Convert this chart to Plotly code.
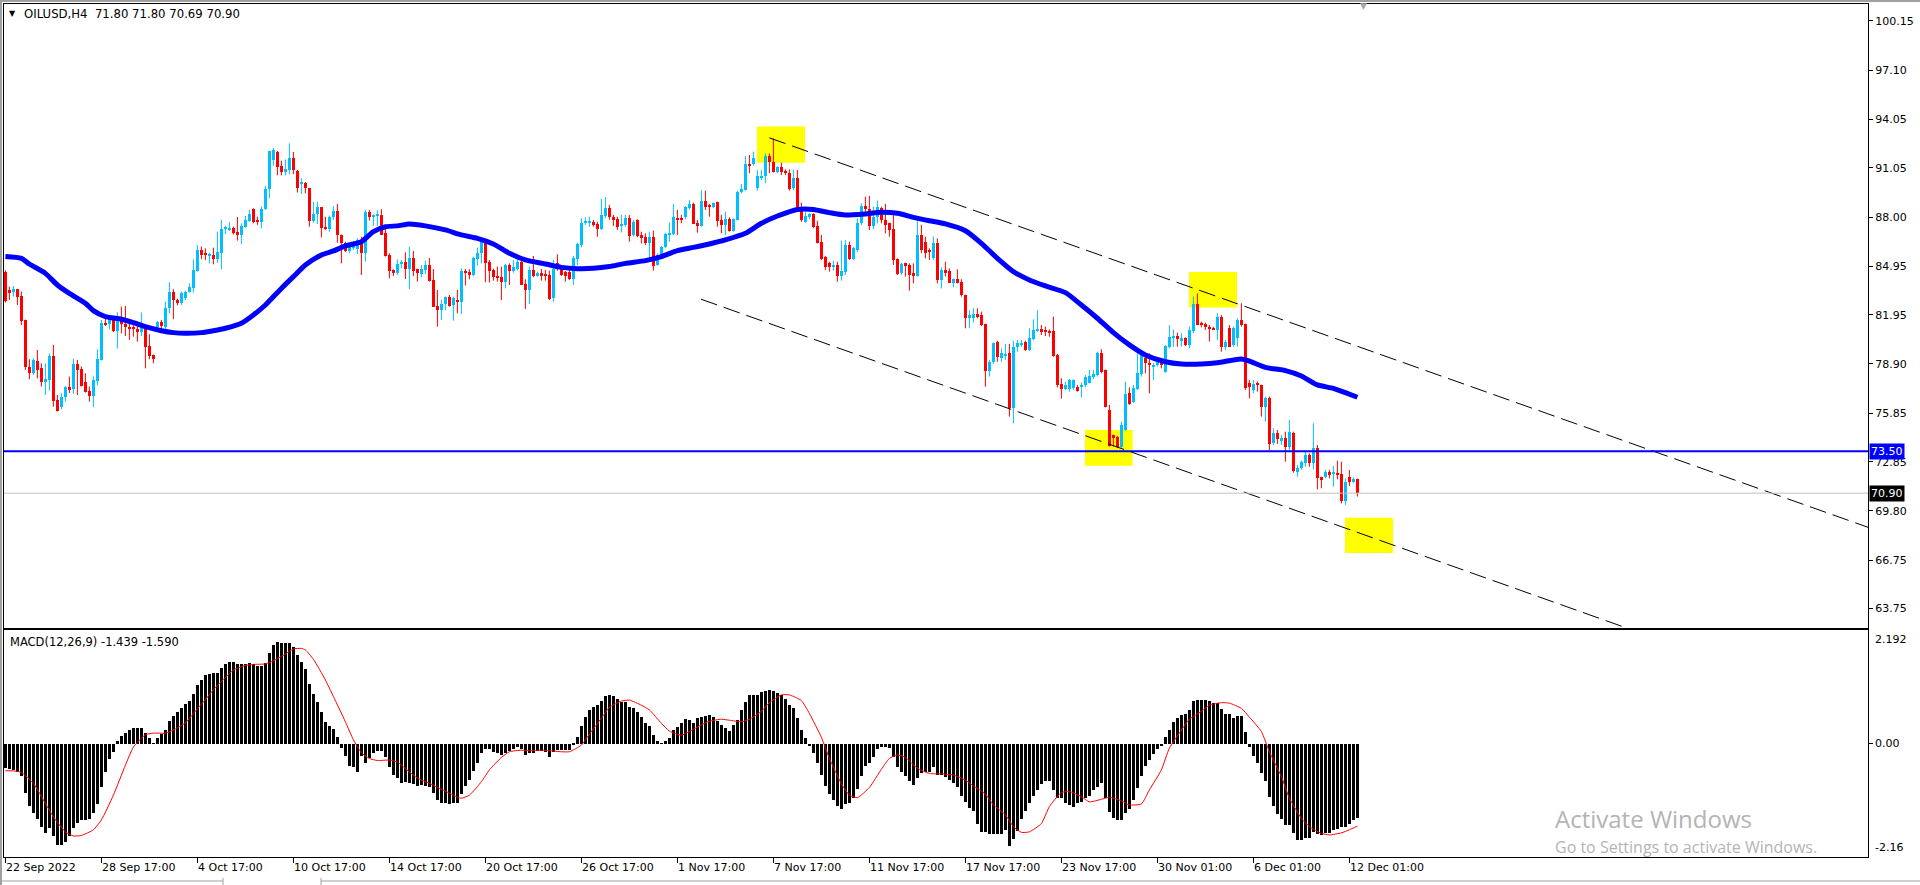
import plotly.graph_objects as go

# ---------------- data ----------------
OPEN = [84.60, 83.48, 83.38, 83.53, 83.11, 81.63, 78.74, 78.32, 79.11, 78.63,
        77.81, 77.91, 79.40, 76.67, 76.22, 76.84, 77.50, 77.33, 78.90, 78.57,
        77.79, 77.23, 76.92, 77.87, 79.15, 81.46, 81.38, 81.67, 80.96, 81.83,
        81.38, 81.21, 81.21, 81.05, 80.88, 81.05, 80.01, 79.46, 81.17, 81.52,
        81.17, 82.35, 83.38, 82.86, 82.70, 82.97, 83.38, 83.58, 84.68, 85.96,
        85.79, 85.63, 85.65, 85.38, 85.79, 87.24, 87.24, 87.30, 87.09, 86.89,
        87.36, 87.78, 88.48, 87.82, 87.67, 88.48, 89.72, 91.53, 92.03, 91.16,
        90.79, 90.91, 91.63, 90.85, 90.05, 90.13, 89.78, 87.78, 88.19, 88.60,
        87.40, 87.24, 87.98, 88.40, 86.89, 86.41, 85.92, 86.08, 86.00, 86.58,
        85.75, 88.29, 88.02, 88.07, 88.13, 87.00, 85.65, 84.72, 84.51, 85.09,
        85.19, 84.78, 85.44, 84.78, 84.47, 84.72, 85.01, 84.10, 82.49, 82.24,
        82.59, 83.03, 82.53, 82.86, 82.76, 84.66, 84.62, 84.41, 85.42, 85.75,
        86.54, 85.24, 84.72, 84.37, 84.31, 84.00, 85.03, 84.68, 84.78, 85.21,
        83.85, 83.48, 84.72, 84.35, 84.55, 84.45, 84.41, 82.97, 85.17, 84.93,
        84.62, 84.62, 84.18, 85.42, 86.29, 87.61, 87.69, 87.71, 87.57, 87.26,
        88.07, 88.54, 88.02, 87.88, 87.45, 87.51, 87.92, 86.89, 87.82, 86.89,
        86.74, 86.37, 86.78, 85.03, 85.59, 86.12, 86.89, 86.95, 87.92, 87.92,
        87.98, 88.54, 88.81, 87.65, 87.45, 88.99, 88.68, 88.60, 88.93, 87.82,
        87.51, 87.86, 87.16, 87.82, 89.55, 89.67, 91.28, 91.28, 89.78, 90.40,
        90.54, 91.78, 91.43, 90.81, 91.12, 90.87, 90.75, 89.78, 90.40, 88.64,
        87.71, 88.02, 88.17, 87.44, 86.47, 85.54, 85.17, 84.93, 85.03, 84.35,
        84.62, 86.27, 85.40, 85.96, 87.61, 88.68, 88.48, 87.44, 88.02, 88.54,
        87.82, 87.61, 87.24, 85.38, 84.51, 85.13, 85.03, 84.51, 84.35, 86.89,
        86.47, 85.96, 85.48, 86.41, 84.10, 84.72, 84.68, 83.89, 84.16, 83.99,
        83.17, 81.73, 81.73, 81.97, 81.93, 81.38, 78.49, 79.04, 80.28, 79.25,
        79.42, 79.56, 76.15, 79.93, 80.08, 80.28, 79.77, 80.43, 80.96, 81.04,
        81.00, 80.96, 80.94, 79.46, 77.66, 77.35, 77.35, 77.39, 77.45, 77.45,
        77.60, 77.74, 78.12, 78.22, 79.60, 78.53, 76.05, 74.50, 74.40, 73.74,
        74.81, 77.08, 76.57, 77.33, 78.28, 79.25, 78.94, 78.74, 78.82, 79.15,
        78.43, 79.97, 80.49, 80.63, 80.38, 80.49, 80.07, 80.96, 82.61, 81.46,
        81.38, 81.21, 81.15, 81.01, 81.83, 79.97, 81.11, 80.07, 80.49, 81.62,
        81.38, 77.70, 77.29, 77.70, 77.60, 76.26, 76.77, 73.99, 74.65, 74.19,
        74.30, 73.74, 74.65, 72.23, 72.44, 72.75, 73.26, 72.75, 73.68, 71.88,
        71.92, 72.23, 72.09, 72.09, 72.09, 70.44, 71.88, 71.61, 71.80]

HIGH = [84.70, 83.69, 83.73, 83.55, 83.38, 81.65, 79.19, 79.25, 79.77, 78.94,
        78.94, 79.56, 80.08, 76.98, 77.09, 77.52, 78.12, 79.21, 79.15, 78.74,
        78.32, 77.50, 78.12, 79.81, 81.63, 81.73, 81.83, 81.83, 82.10, 82.45,
        82.49, 81.56, 81.38, 81.38, 82.08, 81.32, 80.74, 79.48, 81.56, 81.63,
        82.76, 83.96, 83.53, 82.95, 83.38, 83.44, 83.90, 85.38, 86.27, 86.17,
        86.06, 85.79, 86.10, 87.09, 87.82, 87.45, 87.69, 87.40, 88.00, 87.61,
        88.06, 88.44, 88.54, 88.02, 88.64, 89.92, 92.11, 92.27, 92.09, 91.49,
        91.57, 92.56, 92.03, 90.91, 90.40, 90.17, 89.80, 88.95, 88.95, 88.62,
        88.02, 88.09, 88.68, 88.81, 86.91, 86.47, 86.33, 86.52, 86.68, 86.78,
        88.44, 88.44, 88.15, 88.40, 88.48, 87.45, 85.75, 84.76, 85.38, 85.34,
        85.81, 86.14, 85.90, 84.80, 85.03, 85.30, 85.46, 84.78, 83.48, 82.86,
        83.07, 83.17, 83.07, 83.48, 84.82, 84.78, 84.76, 85.55, 86.10, 86.68,
        86.56, 85.34, 84.80, 84.93, 84.93, 85.09, 85.13, 85.34, 85.65, 85.34,
        84.14, 84.93, 85.59, 84.62, 84.78, 84.72, 84.68, 85.34, 85.69, 85.03,
        84.66, 84.93, 85.59, 86.41, 87.92, 87.98, 88.02, 87.82, 87.71, 89.12,
        89.22, 88.75, 88.13, 88.02, 88.13, 88.13, 88.13, 87.82, 87.86, 87.09,
        86.99, 87.09, 87.16, 85.75, 86.21, 87.03, 87.65, 88.81, 88.44, 88.13,
        88.68, 89.05, 88.89, 87.82, 89.67, 89.63, 88.81, 88.89, 88.95, 88.13,
        88.33, 87.98, 87.92, 89.63, 90.05, 91.78, 91.84, 92.05, 90.91, 90.91,
        91.94, 91.94, 92.87, 91.16, 91.37, 90.95, 90.95, 90.91, 90.91, 88.89,
        88.33, 88.23, 88.23, 87.77, 86.89, 85.58, 85.23, 85.28, 85.23, 86.54,
        86.58, 86.47, 86.16, 87.92, 88.85, 89.26, 89.30, 88.64, 89.01, 88.64,
        88.81, 87.65, 88.12, 85.44, 85.17, 85.17, 85.13, 85.13, 87.81, 87.51,
        86.78, 86.06, 86.78, 86.68, 84.88, 85.23, 84.82, 84.20, 84.76, 84.14,
        83.19, 82.24, 82.35, 82.35, 82.14, 81.40, 79.15, 80.22, 80.34, 79.87,
        80.14, 80.14, 80.34, 80.38, 80.38, 80.34, 81.11, 81.66, 82.24, 81.31,
        81.21, 81.04, 81.83, 79.52, 78.01, 77.80, 77.97, 77.95, 77.60, 77.74,
        78.22, 78.53, 78.53, 79.66, 79.81, 78.55, 76.36, 74.52, 74.44, 75.33,
        77.80, 77.45, 77.60, 79.56, 79.60, 79.52, 79.56, 78.94, 79.15, 79.25,
        80.07, 81.31, 81.04, 80.84, 80.80, 80.55, 81.21, 83.07, 83.27, 81.52,
        81.46, 81.31, 81.21, 82.04, 81.93, 80.39, 81.31, 81.21, 81.73, 82.66,
        81.40, 77.91, 77.91, 77.81, 77.62, 76.88, 76.88, 74.92, 74.81, 74.50,
        74.71, 75.43, 74.71, 72.65, 72.91, 73.47, 73.37, 75.23, 73.88, 71.92,
        72.34, 72.34, 72.58, 72.91, 72.85, 71.82, 72.34, 71.88, 71.80]

LOW = [82.70, 82.86, 83.07, 82.55, 81.32, 78.53, 77.95, 78.22, 78.01, 77.50,
       76.98, 77.25, 76.26, 75.95, 76.09, 76.57, 77.09, 77.04, 76.98, 77.50,
       77.13, 76.57, 76.22, 77.60, 79.11, 81.25, 81.05, 80.88, 79.85, 80.80,
       80.63, 80.39, 80.59, 80.28, 80.63, 78.63, 79.19, 78.94, 81.11, 81.05,
       81.05, 82.04, 81.67, 82.53, 82.55, 82.86, 83.32, 83.32, 84.62, 85.38,
       85.34, 85.13, 85.07, 85.17, 84.76, 86.95, 87.14, 86.91, 86.54, 86.33,
       87.34, 87.71, 87.61, 87.51, 87.30, 88.44, 89.16, 91.18, 90.58, 90.58,
       90.58, 90.65, 90.65, 89.51, 89.43, 89.47, 87.40, 87.65, 87.57, 86.74,
       87.20, 87.09, 87.82, 86.41, 85.13, 85.84, 85.75, 85.96, 85.71, 84.41,
       85.24, 87.78, 87.45, 87.45, 86.89, 85.55, 84.20, 84.35, 84.41, 84.82,
       84.16, 83.54, 84.35, 84.00, 84.27, 84.47, 84.00, 82.45, 81.21, 81.63,
       82.24, 82.45, 81.58, 82.04, 82.00, 83.75, 84.14, 84.35, 85.01, 85.13,
       83.96, 83.94, 84.06, 84.00, 82.86, 83.58, 83.79, 84.55, 84.68, 83.79,
       82.31, 82.61, 84.27, 84.31, 84.06, 84.06, 82.86, 82.76, 84.68, 84.35,
       84.00, 84.10, 83.79, 85.03, 86.12, 87.51, 87.40, 87.40, 86.78, 87.20,
       87.92, 87.82, 87.45, 87.20, 87.05, 87.40, 86.47, 86.78, 86.74, 86.37,
       86.27, 85.50, 84.68, 84.99, 85.50, 86.06, 86.47, 86.87, 86.89, 87.61,
       87.86, 88.48, 87.57, 87.03, 87.40, 88.44, 88.02, 88.54, 87.40, 87.00,
       86.89, 87.09, 87.09, 87.78, 89.47, 89.63, 90.71, 91.18, 89.63, 90.29,
       90.09, 90.71, 90.75, 90.71, 90.60, 90.60, 89.63, 89.67, 88.54, 87.71,
       87.65, 87.86, 87.30, 86.37, 85.34, 84.72, 84.62, 84.68, 83.99, 84.06,
       84.41, 85.34, 85.34, 85.85, 87.51, 88.23, 87.20, 87.24, 87.61, 87.61,
       86.99, 86.78, 85.03, 84.41, 84.41, 84.31, 83.44, 83.89, 84.31, 85.75,
       85.44, 85.34, 85.34, 83.89, 83.58, 84.31, 83.93, 83.65, 83.89, 83.07,
       81.11, 81.11, 81.46, 81.73, 81.25, 77.50, 78.12, 78.90, 79.04, 79.04,
       79.15, 75.64, 75.22, 79.66, 79.97, 79.71, 79.71, 80.38, 80.90, 80.69,
       80.63, 80.59, 79.35, 77.45, 76.75, 77.29, 77.18, 77.29, 77.18, 76.83,
       77.45, 77.70, 77.95, 78.12, 78.32, 76.21, 73.78, 73.78, 73.68, 73.68,
       74.77, 76.37, 76.50, 77.29, 78.12, 78.32, 77.08, 77.91, 78.74, 78.63,
       78.36, 79.87, 79.97, 79.97, 79.97, 80.01, 79.87, 80.80, 81.31, 81.17,
       81.01, 80.28, 81.01, 80.39, 79.66, 79.77, 79.97, 79.97, 79.97, 81.21,
       77.29, 76.77, 77.08, 77.19, 75.64, 75.33, 73.57, 73.88, 73.95, 73.88,
       72.85, 73.57, 72.17, 71.92, 72.34, 72.54, 72.54, 72.38, 71.14, 71.20,
       71.82, 71.82, 71.30, 71.76, 70.27, 70.17, 71.35, 71.55, 70.69]

CLOSE = [82.80, 83.32, 83.55, 83.07, 81.58, 78.74, 78.32, 79.15, 78.53, 77.81,
         77.95, 79.40, 76.63, 75.97, 76.84, 77.50, 77.29, 78.90, 78.53, 77.54,
         77.19, 76.92, 77.91, 79.21, 81.46, 81.32, 81.67, 80.94, 81.73, 81.38,
         81.17, 81.09, 81.09, 80.88, 81.42, 79.97, 79.40, 79.23, 81.50, 81.25,
         82.35, 83.38, 82.86, 82.70, 83.28, 83.38, 83.69, 84.72, 85.96, 85.65,
         85.65, 85.67, 85.38, 85.86, 87.26, 87.40, 87.30, 87.03, 86.89, 87.45,
         87.82, 88.19, 87.69, 87.69, 88.50, 89.72, 92.11, 92.15, 91.12, 90.79,
         90.95, 91.63, 90.91, 89.78, 90.13, 89.78, 87.78, 88.19, 88.60, 87.34,
         87.28, 88.02, 88.40, 86.89, 86.41, 85.90, 86.17, 86.25, 86.58, 85.75,
         88.29, 88.02, 88.13, 88.13, 86.89, 85.59, 84.68, 84.51, 85.09, 85.20,
         84.78, 85.44, 84.68, 84.51, 84.78, 85.01, 84.04, 82.45, 82.24, 82.61,
         83.03, 82.49, 82.97, 82.76, 84.66, 84.55, 84.41, 85.48, 85.75, 86.54,
         85.17, 84.68, 84.31, 84.20, 84.00, 85.03, 84.68, 84.93, 85.21, 83.79,
         83.48, 84.72, 84.35, 84.55, 84.35, 84.39, 82.90, 84.76, 84.80, 84.41,
         84.35, 84.18, 85.48, 86.33, 87.65, 87.78, 87.71, 87.51, 87.26, 88.13,
         88.54, 88.02, 87.82, 87.40, 87.51, 87.92, 86.82, 87.71, 86.82, 86.68,
         86.37, 86.74, 84.99, 85.65, 86.12, 86.95, 87.03, 87.98, 87.86, 87.82,
         88.60, 88.81, 87.57, 87.45, 88.99, 88.64, 88.64, 88.85, 87.78, 87.51,
         87.86, 87.16, 87.86, 89.57, 89.72, 91.28, 91.22, 91.63, 90.54, 90.54,
         91.78, 91.43, 90.81, 91.08, 90.81, 90.71, 89.71, 90.40, 88.60, 87.82,
         88.06, 88.17, 87.40, 86.41, 85.38, 84.88, 84.93, 85.03, 84.35, 84.68,
         86.27, 85.38, 86.06, 87.65, 88.68, 88.48, 87.44, 88.02, 88.60, 87.82,
         87.51, 87.20, 85.34, 84.47, 85.09, 84.97, 84.41, 84.35, 86.89, 85.96,
         85.79, 85.85, 86.41, 84.10, 84.72, 84.55, 83.93, 84.14, 83.93, 83.17,
         81.73, 81.93, 82.00, 81.83, 81.31, 78.49, 79.04, 80.18, 79.31, 79.56,
         79.52, 76.15, 79.93, 80.18, 80.18, 79.77, 80.49, 81.00, 81.04, 80.90,
         80.90, 80.84, 79.39, 77.60, 77.35, 77.60, 77.91, 77.91, 77.25, 77.60,
         78.12, 78.16, 78.28, 79.60, 78.43, 76.26, 73.82, 74.29, 73.78, 75.12,
         77.04, 76.42, 77.39, 78.36, 79.56, 78.94, 78.84, 78.84, 79.04, 78.82,
         80.01, 80.59, 80.63, 80.43, 80.49, 80.07, 81.00, 82.61, 81.31, 81.31,
         81.17, 81.09, 81.05, 81.83, 79.97, 80.28, 79.97, 81.11, 81.62, 81.31,
         77.39, 77.45, 77.66, 77.60, 76.26, 76.77, 73.95, 74.61, 74.23, 74.30,
         73.74, 74.71, 72.30, 72.44, 72.85, 73.26, 72.75, 73.68, 71.82, 71.76,
         72.23, 72.03, 72.13, 72.03, 70.44, 71.61, 71.61, 71.80, 70.90]

# moving average (thick blue line), read at sample bars
MA_IDX = [0, 4, 6, 10, 13, 16, 20, 22, 25, 29, 32, 35, 39, 42, 45, 49, 52, 55, 59, 62,
          65, 69, 72, 75, 79, 82, 85, 89, 92, 95, 98, 101, 105, 110, 114, 118, 122, 126,
          130, 135, 139, 143, 147, 151, 155, 160, 164, 168, 172, 176, 180, 185, 189, 193,
          198, 202, 206, 210, 215, 219, 223, 227, 231, 235, 240, 244, 248, 252, 256, 260,
          265, 269, 273, 277, 281, 285, 290, 294, 299, 303, 307, 309, 311, 315, 320, 324,
          328, 332, 335, 338]
MA_VAL = [85.55, 85.44, 85.09, 84.51, 83.79, 83.27, 82.66, 82.20, 81.83, 81.67, 81.46,
          81.21, 80.96, 80.84, 80.80, 80.84, 80.96, 81.11, 81.42, 81.93, 82.55, 83.58,
          84.31, 85.03, 85.65, 85.90, 86.21, 86.47, 87.09, 87.40, 87.45, 87.57, 87.45,
          87.20, 86.89, 86.68, 86.33, 85.75, 85.34, 85.09, 84.88, 84.80, 84.82, 84.93,
          85.13, 85.30, 85.55, 85.92, 86.12, 86.33, 86.58, 86.99, 87.61, 88.06, 88.47,
          88.47, 88.27, 88.12, 88.19, 88.29, 88.23, 87.98, 87.77, 87.57, 87.15, 86.37,
          85.44, 84.62, 84.10, 83.73, 83.32, 82.55, 81.73, 80.84, 80.08, 79.46, 79.04,
          78.90, 78.90, 78.98, 79.15, 79.21, 79.08, 78.69, 78.49, 78.16, 77.60, 77.39,
          77.12, 76.84]

# MACD(12,26,9) histogram, one value per bar
MACD_HIST = [-0.47, -0.49, -0.50, -0.54, -0.62, -0.94, -1.20, -1.33, -1.46, -1.61,
             -1.72, -1.63, -1.78, -1.95, -1.95, -1.89, -1.79, -1.63, -1.52, -1.48,
             -1.47, -1.46, -1.34, -1.16, -0.84, -0.54, -0.30, -0.15, 0.06, 0.15,
             0.22, 0.28, 0.30, 0.30, 0.31, 0.22, 0.11, 0.01, 0.11, 0.19,
             0.28, 0.45, 0.55, 0.61, 0.69, 0.77, 0.84, 0.97, 1.14, 1.24,
             1.33, 1.36, 1.37, 1.38, 1.48, 1.54, 1.59, 1.59, 1.55, 1.55,
             1.55, 1.56, 1.54, 1.50, 1.50, 1.56, 1.77, 1.91, 1.97, 1.96,
             1.95, 1.95, 1.87, 1.72, 1.59, 1.45, 1.16, 0.97, 0.82, 0.61,
             0.43, 0.34, 0.29, 0.13, -0.08, -0.23, -0.43, -0.45, -0.54, -0.23,
             -0.37, -0.28, -0.18, -0.13, -0.13, -0.26, -0.44, -0.60, -0.66, -0.75,
             -0.73, -0.76, -0.77, -0.81, -0.79, -0.81, -0.83, -0.95, -1.08, -1.14,
             -1.15, -1.16, -1.15, -1.14, -0.97, -0.81, -0.70, -0.52, -0.36, -0.17,
             -0.10, -0.10, -0.15, -0.17, -0.21, -0.17, -0.13, -0.10, -0.05, -0.10,
             -0.21, -0.17, -0.17, -0.13, -0.13, -0.15, -0.25, -0.15, -0.12, -0.12,
             -0.12, -0.12, -0.02, 0.14, 0.35, 0.53, 0.65, 0.71, 0.75, 0.84,
             0.93, 0.95, 0.93, 0.88, 0.82, 0.82, 0.71, 0.69, 0.61, 0.52,
             0.41, 0.35, 0.17, 0.06, 0.01, 0.06, 0.11, 0.28, 0.32, 0.41,
             0.48, 0.46, 0.41, 0.50, 0.52, 0.54, 0.56, 0.52, 0.45, 0.37,
             0.30, 0.26, 0.37, 0.46, 0.66, 0.82, 0.95, 0.95, 0.95, 1.01,
             1.03, 1.05, 1.03, 0.99, 0.95, 0.88, 0.75, 0.69, 0.50, 0.28,
             0.11, -0.04, -0.17, -0.36, -0.60, -0.81, -0.97, -1.08, -1.20, -1.26,
             -1.16, -1.14, -1.05, -0.88, -0.62, -0.43, -0.36, -0.25, -0.10, -0.06,
             -0.06, -0.08, -0.25, -0.44, -0.54, -0.62, -0.71, -0.79, -0.65, -0.57,
             -0.54, -0.54, -0.45, -0.60, -0.60, -0.63, -0.70, -0.75, -0.84, -1.01,
             -1.12, -1.23, -1.29, -1.54, -1.70, -1.70, -1.74, -1.74, -1.74, -1.74,
             -1.66, -1.97, -1.83, -1.68, -1.46, -1.29, -1.14, -1.01, -0.89, -0.77,
             -0.71, -0.71, -0.89, -1.05, -1.05, -1.15, -1.18, -1.21, -1.15, -1.12,
             -1.05, -1.01, -0.89, -0.84, -0.75, -1.05, -1.31, -1.44, -1.48, -1.48,
             -1.33, -1.25, -1.08, -0.86, -0.62, -0.43, -0.31, -0.19, -0.09, -0.04,
             0.13, 0.28, 0.43, 0.50, 0.56, 0.58, 0.66, 0.84, 0.85, 0.86,
             0.85, 0.84, 0.80, 0.80, 0.67, 0.58, 0.58, 0.50, 0.54, 0.54,
             0.24, -0.05, -0.23, -0.36, -0.57, -0.71, -1.02, -1.20, -1.35, -1.46,
             -1.57, -1.57, -1.72, -1.85, -1.85, -1.81, -1.81, -1.70, -1.74, -1.76,
             -1.72, -1.72, -1.66, -1.65, -1.61, -1.60, -1.55, -1.47, -1.439]

# MACD signal line, read at sample bars
SIG_IDX = [0, 2, 4, 7, 10, 12, 15, 17, 19, 22, 24, 27, 30, 32, 35, 37, 40, 42, 45, 47,
           50, 52, 55, 57, 60, 62, 65, 67, 70, 72, 74, 75, 77, 80, 82, 85, 87, 89, 91, 93,
           96, 98, 101, 103, 106, 108, 111, 113, 114, 116, 119, 121, 124, 126, 129, 131,
           134, 136, 139, 141, 144, 146, 149, 151, 154, 156, 159, 161, 164, 166, 169, 171,
           174, 176, 179, 181, 184, 186, 189, 191, 194, 196, 199, 201, 204, 206, 209, 211,
           213, 216, 219, 221, 223, 225, 228, 231, 234, 237, 240, 242, 245, 247, 250, 252,
           254, 256, 259, 261, 264, 266, 269, 271, 274, 276, 279, 281, 284, 286, 289, 291,
           294, 296, 299, 301, 304, 306, 309, 311, 314, 316, 319, 321, 324, 326, 329, 331,
           334, 336, 338]
SIG_VAL = [-0.52, -0.52, -0.55, -0.76, -1.15, -1.41, -1.70, -1.78, -1.77, -1.66, -1.47,
           -0.99, -0.41, -0.06, 0.18, 0.21, 0.21, 0.27, 0.41, 0.59, 0.86, 1.05, 1.29, 1.43,
           1.52, 1.54, 1.55, 1.61, 1.74, 1.84, 1.85, 1.82, 1.64, 1.24, 0.92, 0.43, 0.08,
           -0.17, -0.28, -0.32, -0.31, -0.35, -0.54, -0.66, -0.76, -0.84, -0.95, -1.03,
           -1.05, -0.99, -0.73, -0.50, -0.26, -0.15, -0.12, -0.13, -0.12, -0.13, -0.15,
           -0.15, -0.02, 0.19, 0.50, 0.71, 0.83, 0.85, 0.75, 0.66, 0.40, 0.25, 0.17, 0.24,
           0.37, 0.44, 0.48, 0.46, 0.43, 0.48, 0.63, 0.80, 0.95, 0.95, 0.84, 0.59, 0.13,
           -0.28, -0.77, -0.99, -1.04, -0.84, -0.49, -0.28, -0.21, -0.26, -0.47, -0.57,
           -0.58, -0.60, -0.70, -0.81, -0.97, -1.18, -1.37, -1.60, -1.71, -1.70, -1.54,
           -1.21, -0.94, -0.92, -1.02, -1.12, -1.07, -1.03, -1.10, -1.18, -1.16, -0.89,
           -0.50, -0.08, 0.27, 0.48, 0.63, 0.75, 0.80, 0.79, 0.69, 0.52, 0.24, -0.15,
           -0.63, -1.05, -1.44, -1.60, -1.73, -1.76, -1.72, -1.66, -1.59]

TIME_LABELS = ["22 Sep 2022", "28 Sep 17:00", "4 Oct 17:00", "10 Oct 17:00", "14 Oct 17:00",
               "20 Oct 17:00", "26 Oct 17:00", "1 Nov 17:00", "7 Nov 17:00", "11 Nov 17:00",
               "17 Nov 17:00", "23 Nov 17:00", "30 Nov 01:00", "6 Dec 01:00", "12 Dec 01:00"]
TIME_IDX = [0, 24, 48, 72, 96, 120, 144, 168, 192, 216, 240, 264, 288, 312, 336]

PRICE_TICKS = [100.15, 97.10, 94.05, 91.05, 88.00, 84.95, 81.95, 78.90, 75.85, 72.85,
               69.80, 66.75, 63.75]
MACD_LABELS = [2.192, 0.00, -2.16]

HLINE_PRICE = 73.50
BID_PRICE = 70.90
# yellow highlight boxes: (bar from, bar to, price low, price high)
BOX_X0 = [187.9, 269.9, 295.9, 334.9]
BOX_X1 = [199.9, 281.8, 307.9, 346.9]
BOX_Y0 = [91.36, 72.60, 82.39, 67.20]
BOX_Y1 = [93.61, 74.81, 84.59, 69.38]
# channel trend lines: two anchor points each (bar, price), extended to the right
UPPER_TL = [(191.0, 92.90), (300.0, 83.33)]
LOWER_TL = [(173.9, 82.91), (346.2, 67.75)]

SYMBOL = "OILUSD,H4"
LAST_OHLC = "71.80 71.80 70.69 70.90"
MACD_TEXT = "MACD(12,26,9) -1.439 -1.590"

# ---------------- geometry / style ----------------
W, H = 1920, 885
ML, MR, MT, MB = 4, 52, 4, 28
PW, PH = W - ML - MR, H - MT - MB
X_RANGE = [-0.35, 465.65]
MAIN_DOM = [(H - MB - 628) / PH, 1.0]
MACD_DOM = [0.0, (H - MB - 630) / PH]
MAIN_RANGE = [62.55, 101.19]
MACD_RANGE = [-2.187, 2.206]
FONT = "DejaVu Sans"
BULL = "#00bfff"
BEAR = "#ff0000"
FRAME_GREY = "#a0a0a0"


def px_x(px):
    return (px - ML) / PW


def px_y(py):
    return (H - MB - py) / PH


n = len(OPEN)
idx = list(range(n))
traces = []

for is_bull, col in ((True, BULL), (False, BEAR)):
    sel = [i for i in idx if (CLOSE[i] >= OPEN[i]) == is_bull]
    base = [min(OPEN[i], CLOSE[i]) for i in sel]
    hgt = [max(abs(CLOSE[i] - OPEN[i]), 0.07) for i in sel]
    traces.append(go.Bar(x=sel, y=hgt, base=base, width=0.75, marker=dict(color=col, line=dict(width=0)),
                         xaxis="x", yaxis="y", hoverinfo="skip"))
    wx, wy = [], []
    for i in sel:
        wx += [i, i, None]
        wy += [LOW[i], HIGH[i], None]
    traces.append(go.Scatter(x=wx, y=wy, mode="lines", line=dict(color=col, width=1),
                             xaxis="x", yaxis="y", hoverinfo="skip"))

traces.append(go.Scatter(x=MA_IDX, y=MA_VAL, mode="lines",
                         line=dict(color="#0000ff", width=5, shape="spline", smoothing=0.6),
                         xaxis="x", yaxis="y", hoverinfo="skip"))

traces.append(go.Bar(x=idx, y=MACD_HIST, width=0.66, marker=dict(color="black", line=dict(width=0)),
                     xaxis="x2", yaxis="y2", hoverinfo="skip"))
traces.append(go.Scatter(x=SIG_IDX, y=SIG_VAL, mode="lines",
                         line=dict(color="#ff0000", width=1, shape="spline", smoothing=0.5),
                         xaxis="x2", yaxis="y2", hoverinfo="skip"))

fig = go.Figure(data=traces)

shapes = []
for x0, x1, y0, y1 in zip(BOX_X0, BOX_X1, BOX_Y0, BOX_Y1):
    shapes.append(dict(type="rect", xref="x", yref="y", x0=x0, x1=x1, y0=y0, y1=y1,
                       fillcolor="#ffff00", line=dict(width=0), layer="below"))


def ray(p, q):
    slope = (q[1] - p[1]) / (q[0] - p[0])
    xe = X_RANGE[1]
    return dict(type="line", xref="x", yref="y", x0=p[0], y0=p[1], x1=xe,
                y1=p[1] + slope * (xe - p[0]),
                line=dict(color="black", width=1, dash="17px,7px"), layer="above")


shapes.append(ray(*UPPER_TL))
shapes.append(ray(*LOWER_TL))
shapes.append(dict(type="line", xref="paper", yref="y", x0=0, x1=1, y0=BID_PRICE, y1=BID_PRICE,
                   line=dict(color="#c0c0c0", width=1), layer="above"))
shapes.append(dict(type="line", xref="paper", yref="y", x0=0, x1=1, y0=HLINE_PRICE, y1=HLINE_PRICE,
                   line=dict(color="#0000ff", width=2), layer="above"))


def frame_line(x0, y0, x1, y1, width=1):
    return dict(type="line", xref="paper", yref="paper", x0=px_x(x0), x1=px_x(x1),
                y0=px_y(y0), y1=px_y(y1), line=dict(color=FRAME_GREY, width=width))


# window frame and bottom tab strip (grey)
shapes.append(frame_line(1, 0, 1, 885, 2))
shapes.append(frame_line(0, 1, 1920, 1, 2))
shapes.append(frame_line(0, 881, 223, 881))
shapes.append(frame_line(321, 881, 1920, 881))
shapes.append(frame_line(223, 878, 223, 885))
shapes.append(frame_line(321, 878, 321, 885))

ann = []
ann.append(dict(xref="paper", yref="paper", x=px_x(12), y=px_y(13), text="▼", showarrow=False,
                font=dict(family=FONT, size=8, color="black"), xanchor="center", yanchor="middle"))
ann.append(dict(xref="paper", yref="paper", x=px_x(22), y=px_y(14),
                text=SYMBOL + "\u00a0\u00a0" + LAST_OHLC, showarrow=False,
                font=dict(family=FONT, size=11.7, color="black"), xanchor="left", yanchor="middle"))
ann.append(dict(xref="paper", yref="paper", x=px_x(1363), y=px_y(6), text="▼", showarrow=False,
                font=dict(family=FONT, size=9, color="#a8a8a8"), xanchor="center", yanchor="middle"))
ann.append(dict(xref="paper", yref="paper", x=px_x(8), y=px_y(642), text=MACD_TEXT, showarrow=False,
                font=dict(family=FONT, size=11.5, color="black"), xanchor="left", yanchor="middle"))
for lab, i in zip(TIME_LABELS, TIME_IDX):
    ann.append(dict(xref="x2", yref="paper", x=i, y=px_y(868), text=lab, showarrow=False,
                    font=dict(family=FONT, size=11, color="black"), xanchor="left", yanchor="middle",
                    xshift=-1))
ann.append(dict(xref="paper", yref="y", x=1, y=HLINE_PRICE, text="73.50", showarrow=False,
                font=dict(family=FONT, size=11, color="white"), bgcolor="#0000ff",
                xanchor="left", yanchor="middle", xshift=1, borderpad=1))
ann.append(dict(xref="paper", yref="y", x=1, y=BID_PRICE, text="70.90", showarrow=False,
                font=dict(family=FONT, size=11, color="white"), bgcolor="#000000",
                xanchor="left", yanchor="middle", xshift=1, borderpad=1))
for v, anc in zip(MACD_LABELS, ["top", "middle", "bottom"]):
    ann.append(dict(xref="paper", yref="y2", x=1, y=v, text=f"{v:.3f}" if v == 2.192 else f"{v:.2f}",
                    showarrow=False, font=dict(family=FONT, size=11, color="black"),
                    xanchor="left", yanchor=anc, xshift=5))
ann.append(dict(xref="paper", yref="paper", x=px_x(1553), y=px_y(818), text="Activate Windows",
                showarrow=False, font=dict(family="Open Sans", size=24, color="#b4b4b4"),
                xanchor="left", yanchor="middle"))
ann.append(dict(xref="paper", yref="paper", x=px_x(1553), y=px_y(847),
                text="Go to Settings to activate Windows.", showarrow=False,
                font=dict(family="Open Sans", size=16, color="#b4b4b4"),
                xanchor="left", yanchor="middle"))

axis_common = dict(showgrid=False, zeroline=False, showline=True, mirror=True,
                   linecolor="black", linewidth=1)

fig.update_layout(
    width=W, height=H,
    margin=dict(l=ML, r=MR, t=MT, b=MB, pad=0),
    paper_bgcolor="white", plot_bgcolor="white",
    showlegend=False, barmode="overlay", bargap=0,
    hovermode=False,
    xaxis=dict(domain=[0, 1], range=X_RANGE, anchor="y", showticklabels=False, ticks="",
               **axis_common),
    yaxis=dict(domain=MAIN_DOM, range=MAIN_RANGE, anchor="x", side="right",
               tickvals=PRICE_TICKS, ticktext=[f"{v:.2f}" for v in PRICE_TICKS],
               ticks="outside", ticklen=4, tickcolor="black",
               tickfont=dict(family=FONT, size=11, color="black"), **axis_common),
    xaxis2=dict(domain=[0, 1], range=X_RANGE, anchor="y2", tickvals=TIME_IDX, ticks="outside",
                ticklen=5, tickcolor="black", showticklabels=False, **axis_common),
    yaxis2=dict(domain=MACD_DOM, range=MACD_RANGE, anchor="x2", side="right",
                tickvals=[0], ticks="outside", ticklen=4, tickcolor="black",
                showticklabels=False, **axis_common),
    shapes=shapes,
    annotations=ann,
)

fig.write_html("out.html", config={"displayModeBar": False},
               post_script="document.body.style.margin='0px';document.body.style.overflow='hidden';")
